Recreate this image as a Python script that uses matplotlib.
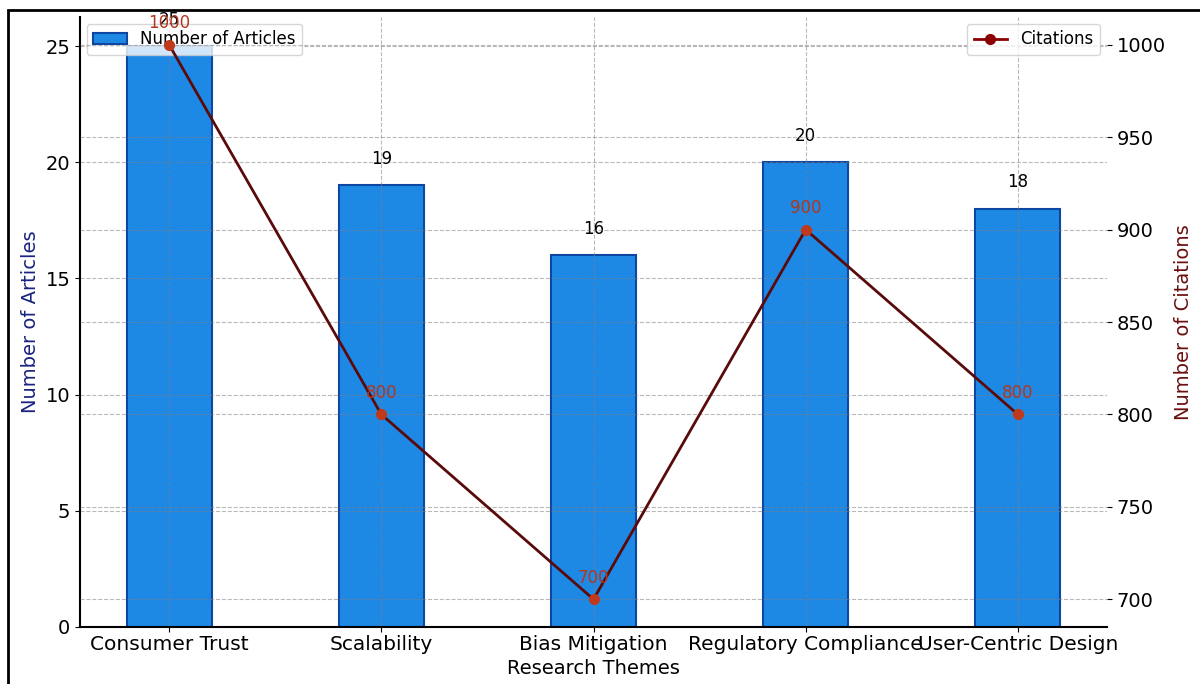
import matplotlib
matplotlib.use("Agg")
import matplotlib.pyplot as plt
from matplotlib.patches import Rectangle

themes = ["Consumer Trust", "Scalability", "Bias Mitigation", "Regulatory Compliance", "User-Centric Design"]
articles = [25, 19, 16, 20, 18]
citations = [1000, 800, 700, 900, 800]

fig = plt.figure(figsize=(12, 6.84), dpi=100)
ax1 = fig.add_axes([80/1200, 1 - 627/684, (1107-80)/1200, (627-17)/684])
x = list(range(len(themes)))

bars = ax1.bar(x, articles, width=0.4, color="#1E88E5", edgecolor="#0D47A1", linewidth=1.5,
               label="Number of Articles")
for xi, v in zip(x, articles):
    ax1.text(xi, v + 0.75, str(v), ha="center", va="bottom", fontsize=12, color="black")
ax1.set_ylim(0, max(articles) * 1.05)
ax1.set_ylabel("Number of Articles", fontsize=14, color="#1A237E")
ax1.set_xlabel("Research Themes", fontsize=14, labelpad=4)
ax1.set_xticks(x)
ax1.set_xticklabels(themes, fontsize=14.5)
ax1.tick_params(axis="x", pad=2)
ax1.tick_params(axis="y", labelsize=14)
ax1.grid(True, linestyle="--", color="gray", alpha=0.55, linewidth=0.8)
ax1.spines["top"].set_visible(False)
ax1.spines["right"].set_visible(False)
ax1.spines["left"].set_linewidth(1.5)
ax1.spines["bottom"].set_linewidth(1.5)

ax2 = ax1.twinx()
ax2.plot(x, citations, color="#5A0A0A", marker="o", markersize=7, linewidth=2,
         markerfacecolor="#C0391B", markeredgecolor="#C0391B", label="Citations")
for xi, v in zip(x, citations):
    ax2.annotate(str(v), (xi, v), textcoords="offset points", xytext=(0, 9),
                 ha="center", va="bottom", fontsize=12, color="#B5361C")
ax2.set_ylabel("Number of Citations", fontsize=14, color="#6B0F0F", labelpad=6)
ax2.tick_params(axis="y", labelsize=14)
ax2.grid(True, linestyle="--", color="gray", alpha=0.55, linewidth=0.8)
for s in ["top", "right", "left", "bottom"]:
    ax2.spines[s].set_visible(False)

leg1 = ax1.legend(loc="upper left", fontsize=12, borderaxespad=0.4)
h, l = ax2.get_legend_handles_labels()
leg2 = ax2.legend(h, l, loc="upper right", fontsize=12, borderaxespad=0.4)
leg2.legend_handles[0].set_color("#8B0000")
leg2.legend_handles[0].set_markerfacecolor("#8B0000")
leg2.legend_handles[0].set_markeredgecolor("#8B0000")

fig.patches.append(Rectangle((8/1200, -0.1), 1.2, 1 - 10/684 + 0.1, transform=fig.transFigure,
                             fill=False, edgecolor="black", linewidth=2, clip_on=False))

fig.savefig("out.png", dpi=100)
